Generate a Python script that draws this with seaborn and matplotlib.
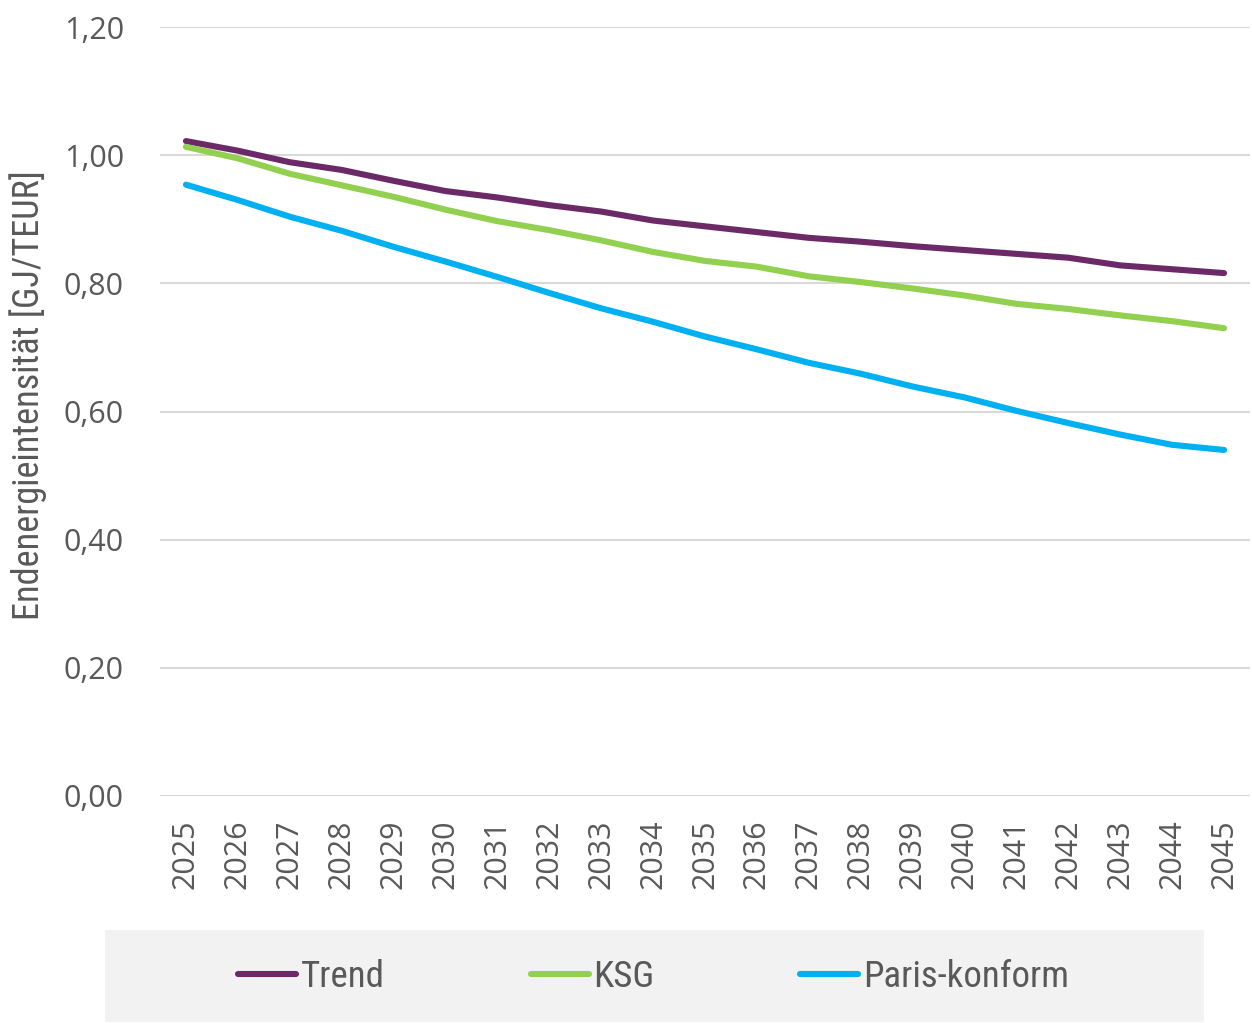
import matplotlib
matplotlib.use("Agg")
import matplotlib.pyplot as plt
from matplotlib import font_manager
from matplotlib.patches import Rectangle
import pandas as pd
import seaborn as sns

years = list(range(2025, 2046))
trend = [1.022, 1.007, 0.989, 0.977, 0.960, 0.944, 0.934, 0.922, 0.912, 0.898, 0.889,
         0.880, 0.871, 0.865, 0.858, 0.852, 0.846, 0.840, 0.828, 0.822, 0.816]
ksg = [1.013, 0.995, 0.971, 0.953, 0.935, 0.915, 0.897, 0.883, 0.867, 0.849, 0.835,
       0.826, 0.811, 0.802, 0.792, 0.781, 0.768, 0.760, 0.750, 0.741, 0.730]
paris = [0.954, 0.930, 0.904, 0.882, 0.857, 0.834, 0.810, 0.785, 0.761, 0.740, 0.717,
         0.697, 0.676, 0.659, 0.639, 0.622, 0.601, 0.582, 0.564, 0.548, 0.540]
series_names = ["Trend", "KSG", "Paris-konform"]
series_colors = ["#6B2A67", "#92D050", "#00B0F0"]
y_ticks = [0.0, 0.2, 0.4, 0.6, 0.8, 1.0, 1.2]
y_label = "Endenergieintensität [GJ/TEUR]"

df = pd.DataFrame({
    "Jahr": years * 3,
    "Wert": trend + ksg + paris,
    "Szenario": [n for n in series_names for _ in years],
})

sns.set_theme(style="white")
fm = font_manager.fontManager
available = {f.name for f in fm.ttflist}
base_font = next((f for f in ["Open Sans", "Noto Sans", "DejaVu Sans"] if f in available), "DejaVu Sans")

# narrow regular-weight face for the axis title and legend
narrow_font = base_font
for name in ["Roboto Condensed", "Liberation Sans Narrow", "DejaVu Sans Condensed", "Roboto"]:
    if any(f.name == name and f.weight in (400, "normal", "regular") for f in fm.ttflist):
        narrow_font = name
        break

plt.rcParams["font.family"] = [base_font, "DejaVu Sans"]

text_color = "#595959"
fig = plt.figure(figsize=(12.52, 10.23), dpi=100)
ax = fig.add_axes([0.1278, 0.2219, 0.8706, 0.7517])

sns.lineplot(data=df, x="Jahr", y="Wert", hue="Szenario", palette=series_colors,
             hue_order=series_names, linewidth=4.4, ax=ax, legend=False,
             solid_capstyle="round")

ax.set_xlim(2024.5, 2045.5)
ax.set_ylim(0, 1.2)
ax.set_yticks(y_ticks)
ax.set_yticklabels([f"{v:.2f}".replace(".", ",") for v in y_ticks])
ax.set_xticks(years)
ax.set_xticklabels([str(y) for y in years], rotation=90)
ax.tick_params(axis="y", length=0, pad=26, labelsize=22, labelcolor=text_color)
ax.tick_params(axis="x", length=0, pad=17, labelsize=22, labelcolor=text_color)
ax.grid(axis="y", color="#d9d9d9", linewidth=1.5)
ax.grid(axis="x", visible=False)
ax.set_axisbelow(True)
for s in ax.spines.values():
    s.set_visible(False)


def fit_size(text, family, target_px, start=22.0):
    """Font size at which `text` spans roughly target_px pixels."""
    r = fig.canvas.get_renderer()
    t = fig.text(0, 0, text, fontsize=start, family=family)
    w = t.get_window_extent(renderer=r).width
    t.remove()
    return start * target_px / w


narrow_family = [narrow_font, "DejaVu Sans"]
label_size = fit_size(y_label, narrow_family, 450)
legend_size = fit_size("Paris-konform", narrow_family, 206)

ax.set_xlabel("")
ax.set_ylabel(y_label, fontsize=label_size, color=text_color, family=narrow_family)
ax.yaxis.set_label_coords(-0.104, 0.521)

# legend panel
fig.patches.append(Rectangle((0.0839, 0.001), 0.8778, 0.09, transform=fig.transFigure,
                             facecolor="#f2f2f2", edgecolor="none", zorder=0))
handles = [plt.Line2D([], [], color=c, linewidth=4.4, solid_capstyle="round") for c in series_colors]
leg = fig.legend(handles, series_names, loc="center", bbox_to_anchor=(0.522, 0.045),
                 ncol=3, frameon=False, handlelength=58 / (legend_size * 100 / 72),
                 handletextpad=0.12, columnspacing=146 / (legend_size * 100 / 72),
                 prop={"family": narrow_family, "size": legend_size})
for t in leg.get_texts():
    t.set_color(text_color)

fig.savefig("out.png", dpi=100)
